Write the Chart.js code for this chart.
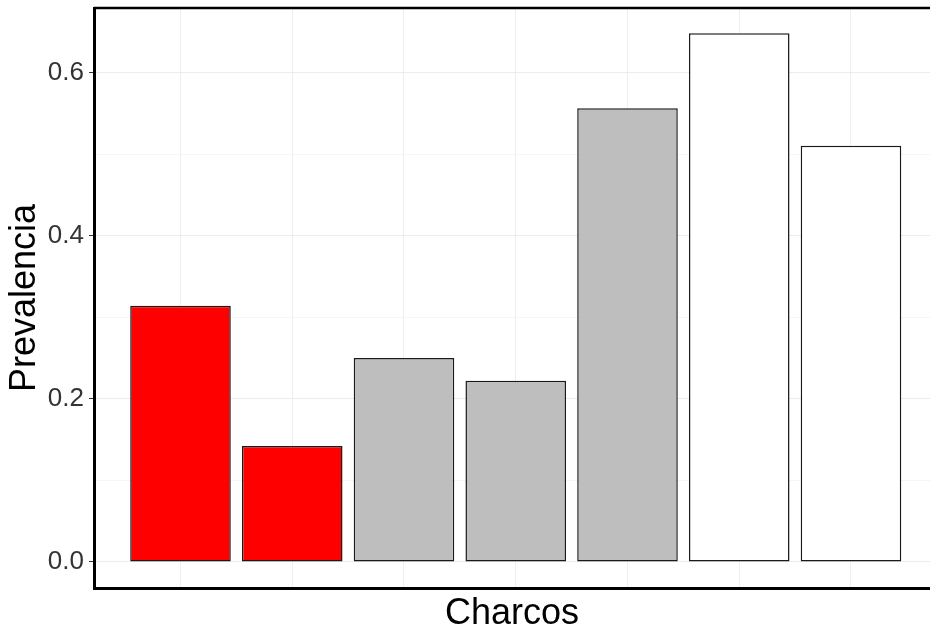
<!DOCTYPE html>
<html>
<head>
  <title>Prevalencia por charco</title>
  <script src="https://cdn.jsdelivr.net/npm/chart.js"></script>
  <style>
    html, body {
      margin: 0;
      padding: 0;
      background: #ffffff;
      overflow: hidden;
    }
    canvas {
      display: block;
    }
  </style>
</head>
<body>
  <canvas id="prevChart" width="930" height="630"></canvas>

  <script>
    // data
    var charcos = [0, 1, 2, 3, 4, 5, 6];
    var prevalencia = [0.314, 0.142, 0.250, 0.222, 0.556, 0.648, 0.510];
    var colores = ["#ff0000", "#ff0000", "#bebebe", "#bebebe", "#bebebe", "#ffffff", "#ffffff"];
    var yTicks = [0, 0.1, 0.2, 0.3, 0.4, 0.5, 0.6];
    var yLabelTicks = [0, 0.2, 0.4, 0.6];

    var points = charcos.map(function(c, i) {
      return { x: c, y: prevalencia[i] };
    });

    function isMajor(v) {
      return yLabelTicks.some(function(t) { return Math.abs(t - v) < 1e-6; });
    }

    // top border of the panel
    var frameTop = {
      id: "frameTop",
      afterDraw: function(chart) {
        var a = chart.chartArea;
        var ctx = chart.ctx;
        ctx.save();
        ctx.strokeStyle = "#000000";
        ctx.lineWidth = 2.5;
        ctx.beginPath();
        ctx.moveTo(a.left, a.top);
        ctx.lineTo(a.right, a.top);
        ctx.stroke();
        ctx.restore();
      }
    };

    var ctx = document.getElementById("prevChart").getContext("2d");

    new Chart(ctx, {
      type: "bar",
      data: {
        datasets: [{
          data: points,
          backgroundColor: colores,
          borderColor: "#1a1a1a",
          borderWidth: 1.5,
          borderSkipped: false,
          barPercentage: 0.9,
          categoryPercentage: 1.0
        }]
      },
      options: {
        responsive: false,
        animation: false,
        layout: {
          padding: { top: 8, right: 0, bottom: 0, left: 0 }
        },
        plugins: {
          legend: { display: false },
          tooltip: { enabled: false }
        },
        scales: {
          x: {
            type: "linear",
            offset: false,
            min: -0.774,
            max: 6.707,
            afterBuildTicks: function(axis) {
              axis.ticks = charcos.map(function(v) { return { value: v }; });
            },
            afterFit: function(scale) {
              scale.height = 42;
              scale.paddingLeft = 0;
              scale.paddingRight = 0;
            },
            ticks: { display: false },
            grid: {
              offset: false,
              color: "#efefef",
              lineWidth: 1,
              drawTicks: false
            },
            border: { color: "#000000", width: 3 },
            title: {
              display: true,
              text: "Charcos",
              color: "#000000",
              font: { family: "'Liberation Sans', Arial, sans-serif", size: 36, lineHeight: 1 },
              padding: { top: 0, bottom: -2 }
            }
          },
          y: {
            min: -0.032,
            max: 0.679,
            afterBuildTicks: function(axis) {
              axis.ticks = yTicks.map(function(v) { return { value: v }; });
            },
            afterFit: function(scale) {
              scale.width = 94;
              scale.paddingTop = 0;
              scale.paddingBottom = 0;
            },
            ticks: {
              color: "#333333",
              padding: 5,
              font: { family: "'Liberation Sans', Arial, sans-serif", size: 26 },
              callback: function(v) {
                return isMajor(v) ? v.toFixed(1) : "";
              }
            },
            grid: {
              color: function(c) {
                return isMajor(c.tick.value) ? "#ececec" : "#f5f5f5";
              },
              lineWidth: 1,
              tickLength: 5,
              tickColor: function(c) {
                return isMajor(c.tick.value) ? "#333333" : "rgba(0,0,0,0)";
              }
            },
            border: { color: "#000000", width: 3 },
            title: {
              display: true,
              text: "Prevalencia",
              color: "#000000",
              font: { family: "'Liberation Sans', Arial, sans-serif", size: 36, lineHeight: 1 },
              padding: { top: 7, bottom: 0 }
            }
          }
        }
      },
      plugins: [frameTop]
    });
  </script>
</body>
</html>
